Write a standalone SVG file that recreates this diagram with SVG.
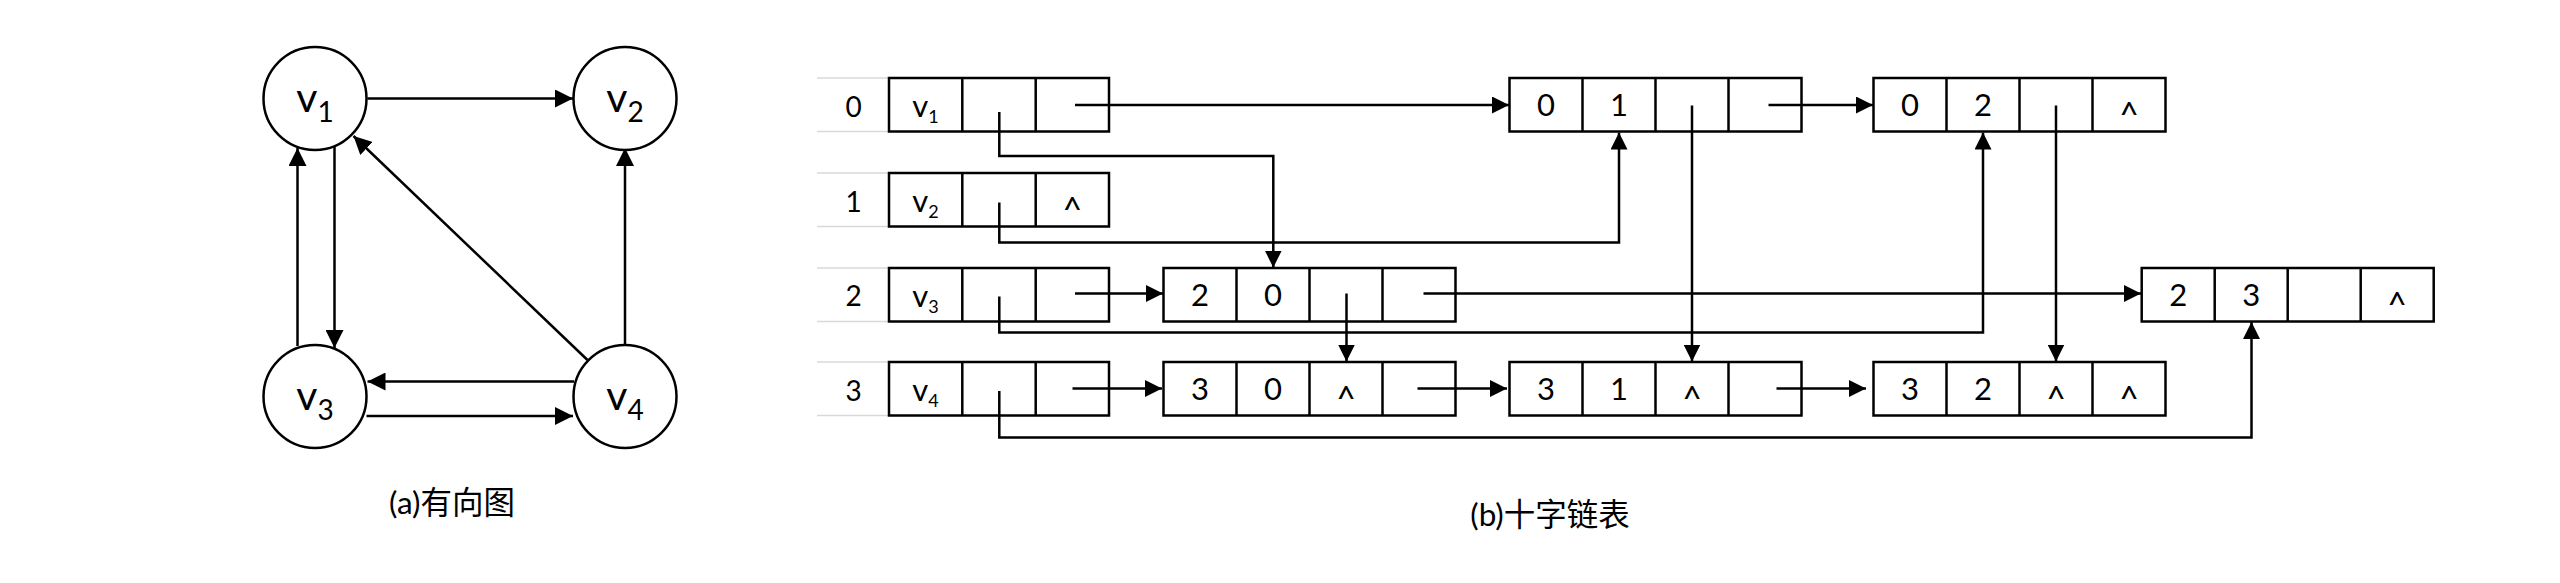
<svg xmlns="http://www.w3.org/2000/svg" width="2560" height="583" viewBox="0 0 2560 583">
<defs>
<style>
.bg{fill:#ffffff}
.circ{fill:#ffffff;stroke:#000;stroke-width:2.5}
.box{fill:#ffffff;stroke:#000;stroke-width:2.5}
.div{stroke:#000;stroke-width:2.5}
.grid{stroke:#d9d9d9;stroke-width:1.5}
.edge{fill:none;stroke:#000;stroke-width:2.5}
.t{font-family:Lato,"Liberation Sans",sans-serif;fill:#000;text-anchor:middle}
.big{font-size:41px}
.sub{font-size:28px}
.cell{font-size:31px}
.hsub{font-size:18px}
.idx{font-size:28px}
.caret{font-size:34px}
.cap{font-family:Lato,"Noto Sans CJK SC",sans-serif;font-size:31.5px;fill:#000;text-anchor:middle}
</style>
<marker id="ah" markerUnits="userSpaceOnUse" markerWidth="18" markerHeight="18" refX="18" refY="9" orient="auto">
<path d="M0,0 L18,9 L0,18 z" fill="#000"/>
</marker>
<marker id="ahs" markerUnits="userSpaceOnUse" markerWidth="17" markerHeight="17" refX="17" refY="8.5" orient="auto">
<path d="M0,0 L17,8.5 L0,17 z" fill="#000"/>
</marker>
</defs>
<rect class="bg" x="0" y="0" width="2560" height="583"/>

<!-- (a) directed graph -->
<g id="graph-connectors">
<line class="edge" x1="367.5" y1="98.5" x2="573" y2="98.5" marker-end="url(#ah)"/>
<line class="edge" x1="334.5" y1="145" x2="334.5" y2="348" marker-end="url(#ah)"/>
<line class="edge" x1="297.5" y1="346" x2="297.5" y2="148" marker-end="url(#ah)"/>
<line class="edge" x1="587.5" y1="360" x2="353.5" y2="136" marker-end="url(#ah)"/>
<line class="edge" x1="625" y1="345" x2="625" y2="148" marker-end="url(#ah)"/>
<line class="edge" x1="574" y1="381.5" x2="367.5" y2="381.5" marker-end="url(#ah)"/>
<line class="edge" x1="366.5" y1="416" x2="573" y2="416" marker-end="url(#ah)"/>
</g>
<g id="v1"><circle class="circ" cx="315" cy="98.5" r="51.5"/><text class="t big" x="315" y="112">v<tspan class="sub" dy="10">1</tspan></text></g>
<g id="v2"><circle class="circ" cx="625" cy="98.5" r="51.5"/><text class="t big" x="625" y="112">v<tspan class="sub" dy="10">2</tspan></text></g>
<g id="v3"><circle class="circ" cx="315" cy="396.5" r="51.5"/><text class="t big" x="315" y="410">v<tspan class="sub" dy="10">3</tspan></text></g>
<g id="v4"><circle class="circ" cx="625" cy="396.5" r="51.5"/><text class="t big" x="625" y="410">v<tspan class="sub" dy="10">4</tspan></text></g>
<text id="cap-a" class="cap" x="452" y="514">(a)有向图</text>

<!-- (b) orthogonal list -->
<g id="index-column">
<line class="grid" x1="817" y1="78" x2="889" y2="78"/><line class="grid" x1="817" y1="131.5" x2="889" y2="131.5"/>
<line class="grid" x1="817" y1="173" x2="889" y2="173"/><line class="grid" x1="817" y1="226.5" x2="889" y2="226.5"/>
<line class="grid" x1="817" y1="268" x2="889" y2="268"/><line class="grid" x1="817" y1="321.5" x2="889" y2="321.5"/>
<line class="grid" x1="817" y1="362" x2="889" y2="362"/><line class="grid" x1="817" y1="415.5" x2="889" y2="415.5"/>
<text class="t idx" x="853.5" y="116.5">0</text>
<text class="t idx" x="853.5" y="211.5">1</text>
<text class="t idx" x="853.5" y="306">2</text>
<text class="t idx" x="853.5" y="400.5">3</text>
</g>

<g id="head0"><rect class="box" x="889" y="78" width="220" height="53.5"/><line class="div" x1="962.3" y1="78" x2="962.3" y2="131.5"/><line class="div" x1="1035.7" y1="78" x2="1035.7" y2="131.5"/>
<text class="t cell" x="925.5" y="116.5">v<tspan class="hsub" dy="6.5">1</tspan></text></g>
<g id="head1"><rect class="box" x="889" y="173" width="220" height="53.5"/><line class="div" x1="962.3" y1="173" x2="962.3" y2="226.5"/><line class="div" x1="1035.7" y1="173" x2="1035.7" y2="226.5"/>
<text class="t cell" x="925.5" y="211.5">v<tspan class="hsub" dy="6.5">2</tspan></text>
<text class="t caret" x="1072.3" y="222.3">^</text></g>
<g id="head2"><rect class="box" x="889" y="268" width="220" height="53.5"/><line class="div" x1="962.3" y1="268" x2="962.3" y2="321.5"/><line class="div" x1="1035.7" y1="268" x2="1035.7" y2="321.5"/>
<text class="t cell" x="925.5" y="306.5">v<tspan class="hsub" dy="6.5">3</tspan></text></g>
<g id="head3"><rect class="box" x="889" y="362" width="220" height="53.5"/><line class="div" x1="962.3" y1="362" x2="962.3" y2="415.5"/><line class="div" x1="1035.7" y1="362" x2="1035.7" y2="415.5"/>
<text class="t cell" x="925.5" y="400.5">v<tspan class="hsub" dy="6.5">4</tspan></text></g>

<g id="arc-0-1"><rect class="box" x="1509.5" y="78" width="292" height="53.5"/><line class="div" x1="1582.5" y1="78" x2="1582.5" y2="131.5"/><line class="div" x1="1655.5" y1="78" x2="1655.5" y2="131.5"/><line class="div" x1="1728.5" y1="78" x2="1728.5" y2="131.5"/>
<text class="t cell" x="1546" y="116">0</text><text class="t cell" x="1619" y="116">1</text></g>
<g id="arc-0-2"><rect class="box" x="1873.5" y="78" width="292" height="53.5"/><line class="div" x1="1946.5" y1="78" x2="1946.5" y2="131.5"/><line class="div" x1="2019.5" y1="78" x2="2019.5" y2="131.5"/><line class="div" x1="2092.5" y1="78" x2="2092.5" y2="131.5"/>
<text class="t cell" x="1910" y="116">0</text><text class="t cell" x="1983" y="116">2</text><text class="t caret" x="2129" y="127.3">^</text></g>
<g id="arc-2-0"><rect class="box" x="1163.5" y="268" width="292" height="53.5"/><line class="div" x1="1236.5" y1="268" x2="1236.5" y2="321.5"/><line class="div" x1="1309.5" y1="268" x2="1309.5" y2="321.5"/><line class="div" x1="1382.5" y1="268" x2="1382.5" y2="321.5"/>
<text class="t cell" x="1200" y="306">2</text><text class="t cell" x="1273" y="306">0</text></g>
<g id="arc-2-3"><rect class="box" x="2141.7" y="268" width="292" height="53.5"/><line class="div" x1="2214.7" y1="268" x2="2214.7" y2="321.5"/><line class="div" x1="2287.7" y1="268" x2="2287.7" y2="321.5"/><line class="div" x1="2360.7" y1="268" x2="2360.7" y2="321.5"/>
<text class="t cell" x="2178.2" y="306">2</text><text class="t cell" x="2251.2" y="306">3</text><text class="t caret" x="2397.2" y="317.3">^</text></g>
<g id="arc-3-0"><rect class="box" x="1163.5" y="362" width="292" height="53.5"/><line class="div" x1="1236.5" y1="362" x2="1236.5" y2="415.5"/><line class="div" x1="1309.5" y1="362" x2="1309.5" y2="415.5"/><line class="div" x1="1382.5" y1="362" x2="1382.5" y2="415.5"/>
<text class="t cell" x="1200" y="400">3</text><text class="t cell" x="1273" y="400">0</text><text class="t caret" x="1346" y="411.3">^</text></g>
<g id="arc-3-1"><rect class="box" x="1509.5" y="362" width="292" height="53.5"/><line class="div" x1="1582.5" y1="362" x2="1582.5" y2="415.5"/><line class="div" x1="1655.5" y1="362" x2="1655.5" y2="415.5"/><line class="div" x1="1728.5" y1="362" x2="1728.5" y2="415.5"/>
<text class="t cell" x="1546" y="400">3</text><text class="t cell" x="1619" y="400">1</text><text class="t caret" x="1692" y="411.3">^</text></g>
<g id="arc-3-2"><rect class="box" x="1873.5" y="362" width="292" height="53.5"/><line class="div" x1="1946.5" y1="362" x2="1946.5" y2="415.5"/><line class="div" x1="2019.5" y1="362" x2="2019.5" y2="415.5"/><line class="div" x1="2092.5" y1="362" x2="2092.5" y2="415.5"/>
<text class="t cell" x="1910" y="400">3</text><text class="t cell" x="1983" y="400">2</text><text class="t caret" x="2056" y="411.3">^</text><text class="t caret" x="2129" y="411.3">^</text></g>

<g id="list-connectors">
<line class="edge" x1="1075" y1="105" x2="1509" y2="105" marker-end="url(#ahs)"/>
<line class="edge" x1="1075" y1="293.5" x2="1163" y2="293.5" marker-end="url(#ahs)"/>
<line class="edge" x1="1072.5" y1="388.5" x2="1162" y2="388.5" marker-end="url(#ahs)"/>
<line class="edge" x1="1768.5" y1="105" x2="1873" y2="105" marker-end="url(#ahs)"/>
<line class="edge" x1="1423.5" y1="293.5" x2="2141" y2="293.5" marker-end="url(#ahs)"/>
<line class="edge" x1="1417.5" y1="388.5" x2="1507" y2="388.5" marker-end="url(#ahs)"/>
<line class="edge" x1="1776.5" y1="388.5" x2="1866" y2="388.5" marker-end="url(#ahs)"/>
<line class="edge" x1="1692" y1="105.5" x2="1692" y2="361.5" marker-end="url(#ahs)"/>
<line class="edge" x1="2056" y1="105.5" x2="2056" y2="361.5" marker-end="url(#ahs)"/>
<line class="edge" x1="1346.5" y1="293.5" x2="1346.5" y2="361.5" marker-end="url(#ahs)"/>
<polyline class="edge" points="999.3,112 999.3,156 1273.3,156 1273.3,267.5" marker-end="url(#ahs)"/>
<polyline class="edge" points="999.3,202.5 999.3,242.5 1619,242.5 1619,132.5" marker-end="url(#ahs)"/>
<polyline class="edge" points="999.3,296.5 999.3,332.5 1983,332.5 1983,132.5" marker-end="url(#ahs)"/>
<polyline class="edge" points="999.3,391 999.3,437.5 2251.5,437.5 2251.5,322" marker-end="url(#ahs)"/>
</g>
<text id="cap-b" class="cap" x="1550" y="526">(b)十字链表</text>
</svg>
